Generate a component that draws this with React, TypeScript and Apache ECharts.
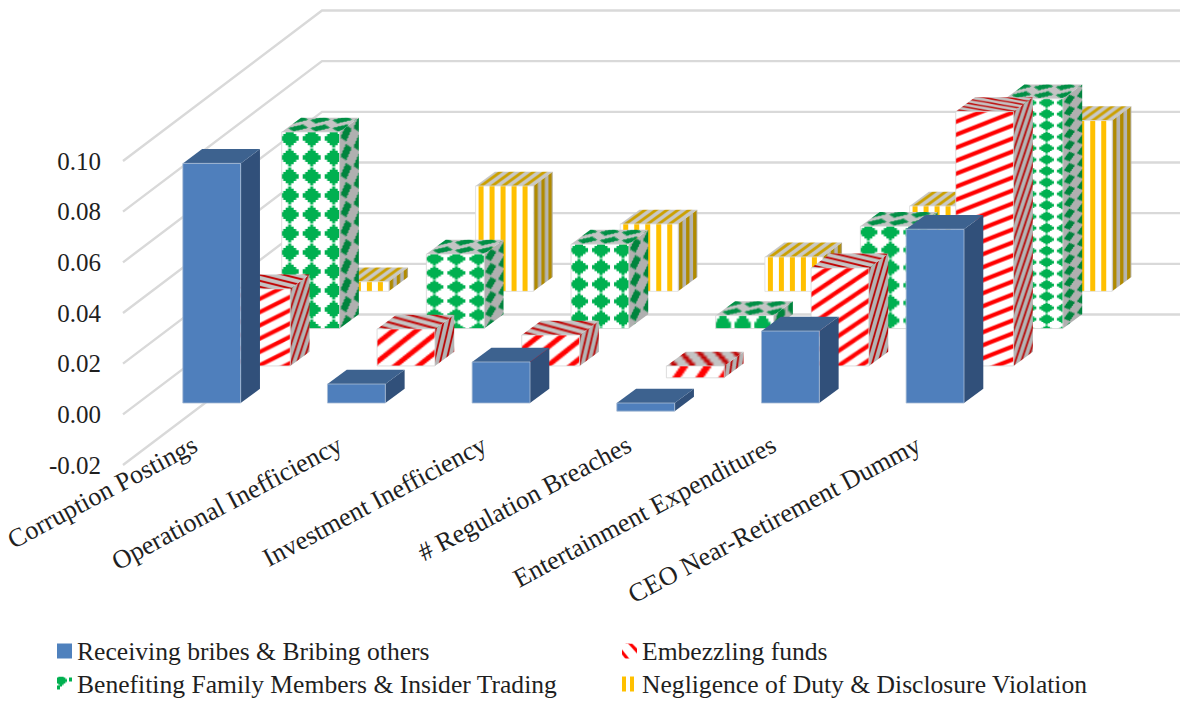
import React, { useEffect, useRef } from "react";
import * as echarts from "echarts";

const categories = [
  "Corruption Postings",
  "Operational Inefficiency",
  "Investment Inefficiency",
  "# Regulation Breaches",
  "Entertainment Expenditures",
  "CEO Near-Retirement Dummy",
];
const bribes = [0.0946, 0.0075, 0.0162, -0.0032, 0.0284, 0.0686];
const embezzling = [0.0304, 0.0146, 0.0122, -0.0047, 0.0387, 0.1004];
const family = [0.0776, 0.0294, 0.0333, 0.0051, 0.0404, 0.0907];
const negligence = [0.0038, 0.0416, 0.0266, 0.0136, 0.0337, 0.0674];
const axisTicks = [-0.02, 0, 0.02, 0.04, 0.06, 0.08, 0.1];

const names = [
  "Receiving bribes & Bribing others",
  "Embezzling funds",
  "Benefiting Family Members & Insider Trading",
  "Negligence of Duty & Disclosure Violation",
];

// Texture stretch per bar [x, y]: the fill is mapped onto each box, so short boxes stretch it.
const embezzlingStretch = [[0.8, 1.02], [0.7, 1.42], [0.7, 1.42], [0.7, 2.5], [0.67, 1.15], [1, 1]];
const embezzlingTopStretch = [[1, 1], [1, 1.1], [1, 1.1], [0.75, 3.3], [1, 0.95], [1, 0.7]];
const familyStretch = [[1, 1], [1, 0.74], [1, 0.9], [0.9, 1.5], [1, 0.93], [0.8, 0.6]];

const FONT = "'Liberation Serif', serif";
const GRID = { left: 123, top: 161, width: 868, height: 304 };
const DEPTH_X = 19.3;
const DEPTH_Y = 14.3;
const WALL_X = 199;
const WALL_Y = 150.5;
const WALL_END = 1180;
const BAR_RATIO = 0.4;

type Tile = { image: HTMLCanvasElement; repeat: string; imageWidth: number; imageHeight: number };

function tile(w: number, h: number, bg: string, draw: (c: CanvasRenderingContext2D) => void): Tile {
  const canvas = document.createElement("canvas");
  canvas.width = w;
  canvas.height = h;
  const c = canvas.getContext("2d") as CanvasRenderingContext2D;
  c.fillStyle = bg;
  c.fillRect(0, 0, w, h);
  draw(c);
  return { image: canvas, repeat: "repeat", imageWidth: w, imageHeight: h };
}

// Stepped diamond traced as a single outline so its edges stay blocky without seams.
function blob(c: CanvasRenderingContext2D, cx: number, cy: number, rx: number, ry: number) {
  const steps = 4;
  const right: number[][] = [];
  for (let i = 0; i < steps; i++) {
    const x = (rx * (i + 0.6)) / (steps - 0.4);
    const y0 = -ry + (ry * i) / steps;
    right.push([x, y0], [x, y0 + ry / steps]);
  }
  for (let i = steps - 1; i >= 0; i--) {
    const x = (rx * (i + 0.6)) / (steps - 0.4);
    const y0 = (ry * (steps - 1 - i)) / steps;
    right.push([x, y0], [x, y0 + ry / steps]);
  }
  c.beginPath();
  right.forEach(([x, y], i) => (i ? c.lineTo(cx + x, cy + y) : c.moveTo(cx + x, cy + y)));
  for (let i = right.length - 1; i >= 0; i--) c.lineTo(cx - right[i][0], cy + right[i][1]);
  c.closePath();
  c.fill();
}

// Band between two parallel lines of the given slope (rising to the right when positive).
function band(c: CanvasRenderingContext2D, x0: number, y0: number, len: number, slope: number, thick: number) {
  c.beginPath();
  c.moveTo(x0, y0);
  c.lineTo(x0 + len, y0 - len * slope);
  c.lineTo(x0 + len, y0 - len * slope + thick);
  c.lineTo(x0, y0 + thick);
  c.closePath();
  c.fill();
}

function buildPatterns() {
  const greenFront = tile(22, 19, "#ffffff", (c) => {
    c.fillStyle = "#00b050";
    for (let i = -1; i <= 1; i++)
      for (let j = -1; j <= 1; j++) blob(c, 8 + i * 22, 6.5 + j * 19, 9, 9);
  });
  const greenSide = tile(26, 19, "#b0b0b0", (c) => {
    c.fillStyle = "#00843d";
    c.setTransform(1, -19 / 26, 0, 1, 0, 0);
    for (let i = -1; i <= 3; i++)
      for (let j = -2; j <= 4; j++) blob(c, 6.5 + i * 13, 6 + j * 19, 5, 8);
  });
  const greenTop = tile(22, 16, "#c4c4c4", (c) => {
    c.fillStyle = "#008f45";
    c.setTransform(1, 0, -22 / 16, 1, 0, 0);
    for (let j = -1; j <= 4; j++)
      for (let i = -1; i <= 4; i++) blob(c, 11 * (j % 2 ? 1 : 0) + i * 22, j * 8 + 4, 9, 3.4);
  });

  const redFront = tile(33, 13, "#ffffff", (c) => {
    c.fillStyle = "#ff0000";
    for (let j = -3; j <= 3; j++) band(c, 0, 8 + j * 13, 33, 13 / 33, 4.6);
  });
  const redSide = tile(6, 18, "#b4b4b4", (c) => {
    c.fillStyle = "#b80000";
    for (let i = -2; i <= 5; i++) band(c, i * 6 - 6, 18, 12, 3, 5.4);
  });
  const redTop = tile(24, 6, "#c4c4c4", (c) => {
    c.fillStyle = "#c00000";
    for (let j = -2; j <= 3; j++) band(c, 0, 2 + j * 6, 24, -0.25, 2);
  });

  const yellowFront = tile(11, 8, "#ffffff", (c) => {
    c.fillStyle = "#ffc000";
    c.fillRect(3, 0, 5, 8);
  });
  const yellowSide = tile(7, 8, "#b4b4b4", (c) => {
    c.fillStyle = "#b08a00";
    c.fillRect(1, 0, 3.4, 8);
  });
  const yellowTop = tile(11, 8, "#c8c8c8", (c) => {
    c.fillStyle = "#cba000";
    c.setTransform(1, 0, -11 / 8, 1, 0, 0);
    for (let i = -1; i <= 3; i++) c.fillRect(3 + i * 11, 0, 5, 8);
  });

  const redKey = tile(15, 16, "#ffffff", (c) => {
    c.fillStyle = "#ff0000";
    c.beginPath();
    c.moveTo(6, 0);
    c.lineTo(10, 0);
    c.lineTo(15, 5);
    c.lineTo(15, 10);
    c.closePath();
    c.fill();
    c.beginPath();
    c.moveTo(0, 6);
    c.lineTo(8, 16);
    c.lineTo(4, 16);
    c.lineTo(0, 11);
    c.closePath();
    c.fill();
  });
  const greenKey = tile(15, 16, "#ffffff", (c) => {
    c.fillStyle = "#00b050";
    blob(c, 4, 4, 6, 6);
    c.fillRect(0, 9, 3, 4);
    c.fillRect(12, 1, 3, 4);
  });
  const yellowKey = tile(15, 16, "#ffffff", (c) => {
    c.fillStyle = "#ffc000";
    c.fillRect(0, 0, 4, 16);
    c.fillRect(8, 0, 4, 16);
  });

  return { greenFront, greenSide, greenTop, redFront, redSide, redTop, yellowFront, yellowSide, yellowTop, redKey, greenKey, yellowKey };
}

type Faces = { front: any; side: any; top: any; edge: string; stretch?: number[][]; topStretch?: number[][] };

const stretched = (fill: any, s?: number[]) =>
  s && typeof fill !== "string" ? { ...fill, scaleX: s[0], scaleY: s[1] } : fill;

// One box per value: front, right side and top face, offset into the depth of the chart.
function boxSeries(name: string, values: number[], faces: Faces, dx: number, dy: number, z: number, key: any) {
  return {
    type: "custom",
    name,
    z,
    clip: false,
    itemStyle: { color: key },
    data: values.map((v, i) => [i, v]),
    encode: { x: 0, y: 1 },
    renderItem: (_: any, api: any) => {
      const cat = api.value(0);
      const val = api.value(1);
      const valuePt = api.coord([cat, val]);
      const zeroPt = api.coord([cat, 0]);
      const w = api.size([1, 0])[0] * BAR_RATIO;
      const left = valuePt[0] + dx - w / 2;
      const top = Math.min(valuePt[1], zeroPt[1]) + dy;
      const h = Math.abs(valuePt[1] - zeroPt[1]);
      const s = faces.stretch ? faces.stretch[cat] : undefined;
      const sideS = s ? [1, s[1]] : undefined;
      const topS = faces.topStretch ? faces.topStretch[cat] : undefined;
      return {
        type: "group",
        children: [
          {
            type: "polygon",
            x: left + w,
            y: top,
            shape: { points: [[0, 0], [DEPTH_X, -DEPTH_Y], [DEPTH_X, h - DEPTH_Y], [0, h]] },
            style: { fill: stretched(faces.side, sideS) },
          },
          {
            type: "polygon",
            x: left,
            y: top,
            shape: { points: [[0, 0], [DEPTH_X, -DEPTH_Y], [w + DEPTH_X, -DEPTH_Y], [w, 0]] },
            style: { fill: stretched(faces.top, topS) },
          },
          {
            type: "rect",
            x: left,
            y: top,
            shape: { x: 0, y: 0, width: w, height: h },
            style: { fill: stretched(faces.front, s), stroke: faces.edge, lineWidth: 0.8 },
          },
        ],
      };
    },
  };
}

function wallSeries() {
  return {
    type: "custom",
    z: 1,
    clip: false,
    silent: true,
    data: axisTicks.map((v) => [0, v]),
    encode: { x: 0, y: 1 },
    renderItem: (_: any, api: any) => {
      const y = api.coord([0, api.value(1)])[1];
      const x0 = GRID.left;
      return {
        type: "polyline",
        shape: { points: [[x0, y], [x0 + WALL_X, y - WALL_Y], [WALL_END, y - WALL_Y]] },
        style: { fill: "none", stroke: "#d9d9d9", lineWidth: 2.4 },
      };
    },
  };
}

export default function App() {
  const ref = useRef<HTMLDivElement>(null);

  useEffect(() => {
    if (!ref.current) return;
    const chart = echarts.init(ref.current, undefined, { renderer: "svg" });
    const p = buildPatterns();
    const legendText = { fontFamily: FONT, fontSize: 25.6, color: "#1f1f1f" };

    const keyLegend = (name: string, left: number, top: number, color: any) => ({
      left,
      top,
      padding: 0,
      itemWidth: 15,
      itemHeight: 15,
      selectedMode: false,
      textStyle: legendText,
      data: [{ name, icon: "rect", itemStyle: { color, borderWidth: 0 } }],
    });

    chart.setOption({
      animation: false,
      backgroundColor: "#ffffff",
      grid: { left: GRID.left, top: GRID.top, width: GRID.width, height: GRID.height },
      xAxis: {
        type: "category",
        data: categories,
        axisLine: { show: false },
        axisTick: { show: false },
        axisLabel: { interval: 0, rotate: 28, margin: -22, fontFamily: FONT, fontSize: 26.2, color: "#1f1f1f" },
      },
      yAxis: {
        type: "value",
        min: -0.02,
        max: 0.1,
        interval: 0.02,
        axisLine: { show: false },
        axisTick: { show: false },
        splitLine: { show: false },
        axisLabel: {
          margin: 22,
          fontFamily: FONT,
          fontSize: 25,
          color: "#1f1f1f",
          formatter: (v: number) => v.toFixed(2),
        },
      },
      legend: [
        keyLegend(names[0], 57, 638, "#4f81bd"),
        keyLegend(names[1], 622, 638, p.redKey),
        keyLegend(names[2], 57, 671, p.greenKey),
        keyLegend(names[3], 622, 671, p.yellowKey),
      ],
      series: [
        wallSeries(),
        boxSeries(names[3], negligence, { front: p.yellowFront, side: p.yellowSide, top: p.yellowTop, edge: "#dcdcdc" }, 164.5, -123, 2, p.yellowKey),
        boxSeries(names[2], family, { front: p.greenFront, side: p.greenSide, top: p.greenTop, edge: "#d4d4d4", stretch: familyStretch }, 115.3, -85.8, 3, p.greenKey),
        boxSeries(names[1], embezzling, { front: p.redFront, side: p.redSide, top: p.redTop, edge: "#d4d4d4", stretch: embezzlingStretch, topStretch: embezzlingTopStretch }, 66, -48.4, 4, p.redKey),
        boxSeries(names[0], bribes, { front: "#4f7fbc", side: "#31507a", top: "#3d628f", edge: "#a9bcd6" }, 16.4, -11.3, 5, "#4f81bd"),
      ],
    });
    return () => chart.dispose();
  }, []);

  return <div ref={ref} style={{ position: "absolute", left: 0, top: 0, width: 1183, height: 702 }} />;
}
